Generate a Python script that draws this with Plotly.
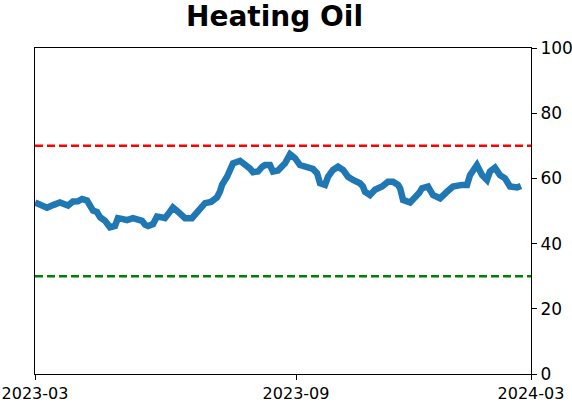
import plotly.graph_objects as go

# x position in day units along the axis (0 = 2023-03, 366 = 2024-03)
days = [0, 4.4, 8.9, 13.3, 18.4, 24.4, 28.0, 31.7, 34.7, 38.4, 40.6, 42.8, 45.7, 48.0, 51.7,
        55.3, 59.0, 61.2, 64.2, 67.9, 72.3, 76.0, 79.0, 81.2, 83.4, 87.1, 90.0, 93.0, 95.9,
        99.6, 101.8, 105.5, 108.5, 110.7, 115.8, 120.3, 125.5, 129.9, 134.3, 136.5, 138.0,
        141.7, 143.9, 146.1, 151.3, 156.5, 158.7, 160.9, 164.6, 167.5, 169.7, 173.4, 175.6,
        179.3, 182.3, 184.5, 188.2, 191.9, 195.5, 197.8, 200.7, 205.1, 208.1, 210.3, 214.0,
        216.2, 219.9, 223.6, 227.3, 231.0, 234.7, 239.8, 242.0, 243.5, 247.2, 250.9, 256.1,
        260.5, 264.2, 267.9, 269.4, 271.6, 276.8, 280.5, 283.4, 285.6, 290.0, 293.7, 298.9,
        304.0, 308.4, 315.1, 318.8, 321.0, 323.9, 326.1, 329.9, 333.5, 335.7, 339.4, 343.1,
        346.8, 350.5, 355.7, 358.6]
values = [52.6, 51.7, 51.0, 51.8, 52.6, 51.7, 52.9, 53.0, 53.7, 53.2, 51.5, 50.1, 49.7, 48.1, 47.0,
          45.0, 45.4, 47.8, 47.6, 47.2, 47.8, 47.4, 47.0, 45.8, 45.4, 46.0, 48.3, 48.1, 47.8,
          49.8, 51.1, 49.8, 48.5, 47.8, 47.8, 49.8, 52.4, 52.8, 54.2, 56.0, 58.0,
          60.5, 62.5, 64.6, 65.4, 64.1, 63.0, 61.9, 62.1, 63.5, 64.1, 64.1, 62.1,
          62.4, 63.5, 64.6, 67.4, 66.2, 64.1, 63.8, 63.1, 62.9, 61.6, 58.5, 58.0,
          60.5, 62.6, 63.6, 62.6, 60.5, 59.5, 58.5, 57.5, 55.9, 54.9, 56.5, 57.5,
          59.0, 59.0, 58.0, 57.0, 53.4, 52.6, 53.9, 55.5, 57.0, 57.5, 54.9, 53.9,
          55.9, 57.5, 58.0, 58.0, 61.0, 62.5, 64.1, 61.0, 59.5, 62.1, 63.3, 61.0,
          60.0, 57.5, 57.2, 57.7]

tick_vals = [0, 192.6, 366]
tick_text = ["2023-03", "2023-09", "2024-03"]
upper_level = 70
lower_level = 30
x_range = [0, 366]

fig = go.Figure()
fig.add_trace(go.Scatter(x=days, y=values, mode="lines",
                         line=dict(color="#1f77b4", width=6.5), showlegend=False))
fig.add_trace(go.Scatter(x=x_range, y=[upper_level, upper_level], mode="lines",
                         line=dict(color="#ff0000", width=2.5, dash="8px,4px"), showlegend=False))
fig.add_trace(go.Scatter(x=x_range, y=[lower_level, lower_level], mode="lines",
                         line=dict(color="#008000", width=2.5, dash="8px,4px"), showlegend=False))

fig.update_layout(
    width=572, height=402,
    margin=dict(l=35, r=41, t=48, b=28),
    paper_bgcolor="white", plot_bgcolor="white",
    font=dict(family="DejaVu Sans", size=16, color="black"),
    title=dict(text="<b>Heating Oil</b>", x=0.48, xanchor="center", y=0.985, yanchor="top",
               font=dict(family="DejaVu Sans", size=28, color="black")),
)
fig.update_xaxes(range=x_range, tickvals=tick_vals, ticktext=tick_text, automargin=False,
                 showgrid=False, zeroline=False, showline=True, linecolor="black", linewidth=1,
                 mirror=True, ticks="outside", ticklen=5, tickcolor="black")
fig.update_yaxes(range=[0, 100], tickvals=[0, 20, 40, 60, 80, 100], side="right", automargin=False,
                 showgrid=False, zeroline=False, showline=True, linecolor="black", linewidth=1,
                 mirror=True, ticks="outside", ticklen=5, tickcolor="black",
                 tickfont=dict(size=17))

fig.write_html("out.html")
